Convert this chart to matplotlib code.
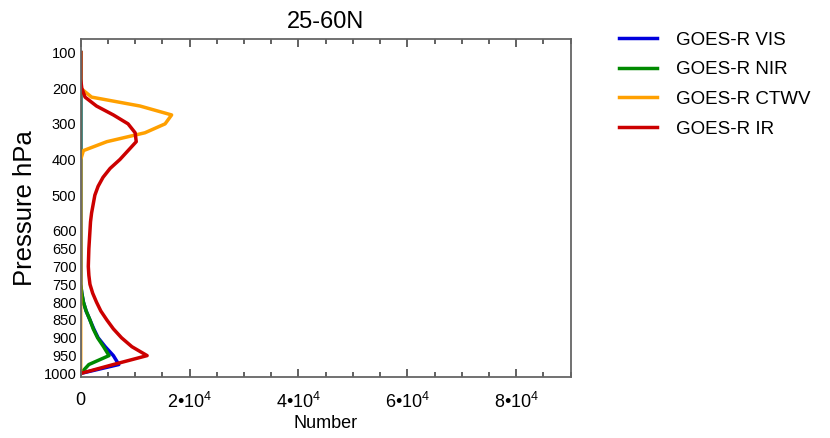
import matplotlib
matplotlib.use("Agg")
import matplotlib.pyplot as plt
from matplotlib.ticker import MultipleLocator

plt.rcParams['font.family'] = ['Liberation Sans', 'DejaVu Sans']
plt.rcParams['mathtext.fontset'] = 'custom'
plt.rcParams['mathtext.rm'] = 'Liberation Sans'
plt.rcParams['mathtext.it'] = 'Liberation Sans'

title = "25-60N"
pressure = [100, 125, 150, 175, 200, 225, 250, 275, 300, 325, 350, 375, 400,
            425, 450, 475, 500, 525, 550, 575, 600, 625, 650, 675, 700, 725,
            750, 775, 800, 825, 850, 875, 900, 925, 950, 975, 1000]

vis = [0, 0, 0, 0, 0, 0, 0, 0, 0, 0, 0, 0, 0,
       0, 0, 0, 0, 0, 0, 0, 0, 0, 0, 0, 0, 0,
       0, 200, 500, 1000, 1700, 2400, 3200, 4500, 6000, 7000, 0]
nir = [0, 0, 0, 0, 0, 0, 0, 0, 0, 0, 0, 0, 0,
       0, 0, 0, 0, 0, 0, 0, 0, 0, 0, 0, 0, 0,
       0, 200, 500, 1000, 1700, 2300, 3100, 4200, 5200, 1500, 0]
ctwv = [0, 0, 0, 0, 0, 2000, 10900, 16700, 15500, 11800, 4800, 500, 0,
        0, 0, 0, 0, 0, 0, 0, 0, 0, 0, 0, 0, 0,
        0, 0, 0, 0, 0, 0, 0, 0, 0, 0, 0]
ir = [0, 0, 0, 0, 200, 800, 2900, 6000, 8700, 10000, 10200, 8700, 7200,
      5400, 4100, 3200, 2600, 2300, 2000, 1800, 1700, 1600, 1500, 1450, 1400, 1500,
      1700, 2200, 2900, 3700, 4800, 6000, 7500, 9400, 12200, 6000, 0]

series = [("GOES-R VIS", vis, "#0000dd"),
          ("GOES-R NIR", nir, "#008a00"),
          ("GOES-R CTWV", ctwv, "#ffa000"),
          ("GOES-R IR", ir, "#cc0000")]

ytick_vals = [100, 200, 300, 400, 500, 600, 650, 700, 750, 800, 850, 900, 950, 1000]
xtick_vals = [0, 20000, 40000, 60000, 80000]
xtick_labels = ["0", "2•10$^\\mathregular{4}$", "4•10$^\\mathregular{4}$",
                "6•10$^\\mathregular{4}$", "8•10$^\\mathregular{4}$"]

fig = plt.figure(figsize=(8.3, 4.38), dpi=100)
ax = fig.add_axes([80.7/830, 1-377/438, 490/830, 338/438])

handles = []
for name, vals, col in series:
    h, = ax.plot(vals, pressure, color=col, lw=2.5, label=name)
    handles.append(h)

ax.set_xlim(0, 90000)
ax.set_ylim(1010, 62)

ax.set_xticks(xtick_vals)
ax.set_xticklabels(xtick_labels, fontsize=13)
ax.xaxis.set_minor_locator(MultipleLocator(5000))
ax.tick_params(axis='x', which='major', direction='in', length=6, width=1.3,
               color='#555555', top=True, pad=11)
ax.tick_params(axis='x', which='minor', direction='in', length=3.5, width=1.3,
               color='#555555', top=True)

ax.set_yticks(ytick_vals)
ax.set_yticklabels([str(v) for v in ytick_vals], fontsize=10.5)
ax.tick_params(axis='y', which='both', length=0, pad=3)

for sp in ax.spines.values():
    sp.set_color('#666666')
    sp.set_linewidth(1.3)

ax.set_title(title, fontsize=17, pad=8)
ax.set_xlabel("Number", fontsize=13, labelpad=2)
ax.set_ylabel("Pressure hPa", fontsize=18.5, labelpad=5)

fig.legend(handles=handles, loc='upper left', bbox_to_anchor=(602/830, 1-15/438),
           frameon=False, fontsize=13.5, handlelength=2.05, handletextpad=1.0,
           labelspacing=0.66)

fig.savefig("out.png", dpi=100)
